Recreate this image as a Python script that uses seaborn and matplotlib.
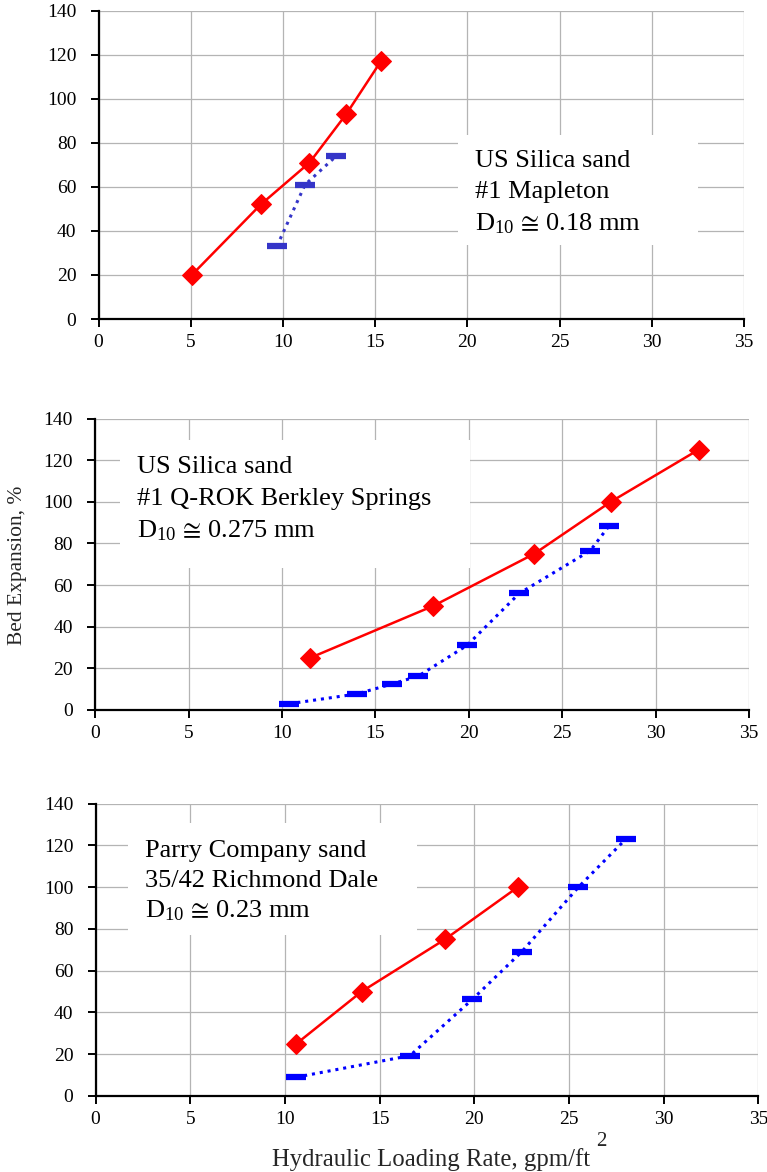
import matplotlib
matplotlib.use("Agg")
import matplotlib.pyplot as plt
import seaborn as sns
from matplotlib.patches import Rectangle

# ---- data ----
p1_red_x = [5.06, 8.8, 11.44, 13.43, 15.31]
p1_red_y = [20, 52, 71, 93, 117]
p1_blue_x = [9.67, 11.2, 12.89]
p1_blue_y = [33, 61, 74]

p2_red_x = [11.5, 18.1, 23.5, 27.6, 32.3]
p2_red_y = [25, 50, 75, 100, 125]
p2_blue_x = [10.4, 14.0, 15.9, 17.3, 19.9, 22.7, 26.5, 27.5]
p2_blue_y = [3, 7.7, 12.5, 16.3, 31, 56, 76.5, 88.3]

p3_red_x = [10.6, 14.05, 18.45, 22.3]
p3_red_y = [25, 50, 75, 100]
p3_blue_x = [10.6, 16.6, 19.9, 22.5, 25.5, 28.0]
p3_blue_y = [9, 19.3, 46.3, 69, 100, 123]

x_ticks = [0, 5, 10, 15, 20, 25, 30, 35]
y_ticks = [0, 20, 40, 60, 80, 100, 120, 140]

labels1 = ["US Silica sand", "#1 Mapleton", r"D$_{\mathrm{10}}\,\cong\,$0.18 mm"]
labels2 = ["US Silica sand", "#1 Q-ROK Berkley Springs", r"D$_{\mathrm{10}}\,\cong\,$0.275 mm"]
labels3 = ["Parry Company sand", "35/42 Richmond Dale", r"D$_{\mathrm{10}}\,\cong\,$0.23 mm"]

y_label = "Bed Expansion, %"
x_label = "Hydraulic Loading Rate, gpm/ft"

sns.set_theme(style="white")
plt.rcParams['font.family'] = ['Liberation Serif', 'DejaVu Serif']
plt.rcParams['mathtext.fontset'] = 'custom'
plt.rcParams['mathtext.rm'] = 'Liberation Serif'
plt.rcParams['mathtext.it'] = 'Liberation Serif:italic'
plt.rcParams['mathtext.fallback'] = 'stix'

W, H = 767, 1172
fig = plt.figure(figsize=(W / 100, H / 100), dpi=100)
fig.patch.set_facecolor('white')


def make_axes(x0, x1, ytop, ybot):
    return fig.add_axes([x0 / W, 1 - ybot / H, (x1 - x0) / W, (ybot - ytop) / H])


panels = [
    dict(rect=(98.5, 744, 10.7, 319), rx=p1_red_x, ry=p1_red_y, bx=p1_blue_x, by=p1_blue_y,
         blue='#3535c8', box=(0.557, 0.240, 0.929, 0.597), tx=0.583,
         ty=[0.493, 0.391, 0.288], labels=labels1),
    dict(rect=(95.2, 749, 418.5, 710), rx=p2_red_x, ry=p2_red_y, bx=p2_blue_x, by=p2_blue_y,
         blue='#0000ff', box=(0.038, 0.487, 0.573, 0.926), tx=0.0635,
         ty=[0.813, 0.703, 0.593], labels=labels2),
    dict(rect=(95.6, 758.4, 803.5, 1096), rx=p3_red_x, ry=p3_red_y, bx=p3_blue_x, by=p3_blue_y,
         blue='#0000ff', box=(0.049, 0.550, 0.485, 0.933), tx=0.0745,
         ty=[0.817, 0.715, 0.609], labels=labels3),
]

for p in panels:
    ax = make_axes(*p['rect'])
    ax.set_axisbelow(True)
    sns.lineplot(x=p['bx'], y=p['by'], ax=ax, color=p['blue'], linewidth=2.2,
                 linestyle=(0, (1.0, 1.6)), marker='_', markersize=15,
                 markeredgewidth=4.5, markeredgecolor=p['blue'],
                 sort=False, estimator=None, zorder=3)
    sns.lineplot(x=p['rx'], y=p['ry'], ax=ax, color='#ff0000', linewidth=1.8,
                 marker='D', markersize=10, markeredgecolor='#ff0000',
                 markerfacecolor='#ff0000', sort=False, estimator=None, zorder=4)
    ax.set_xlim(0, 35)
    ax.set_ylim(0, 140)
    ax.set_xticks(x_ticks)
    ax.set_yticks(y_ticks)
    ax.grid(True, color='#b4b4b4', linewidth=0.9)
    for s in ['top', 'right']:
        ax.spines[s].set_visible(False)
    for s in ['left', 'bottom']:
        ax.spines[s].set_visible(True)
        ax.spines[s].set_color('black')
        ax.spines[s].set_linewidth(1.6)
    ax.tick_params(axis='both', which='both', direction='out', length=6, width=1.4,
                   color='black', labelsize=14, labelcolor='black')
    ax.tick_params(axis='y', pad=10)
    ax.tick_params(axis='x', pad=5)
    ax.tick_params(left=True, bottom=True)
    ax.set_xlabel("")
    ax.set_ylabel("")
    bx0, by0, bx1, by1 = p['box']
    ax.add_patch(Rectangle((bx0, by0), bx1 - bx0, by1 - by0, transform=ax.transAxes,
                           facecolor='white', edgecolor='none', zorder=1))
    for t, yy in zip(p['labels'], p['ty']):
        ax.text(p['tx'], yy, t, transform=ax.transAxes, fontsize=19, va='baseline',
                ha='left', color='black', zorder=5)

fig.text(18 / W, 1 - 565 / H, y_label, rotation=90, fontsize=15.5, ha='center', va='center')
fig.text(431 / W, 1 - 1166 / H, x_label, fontsize=17.8, ha='center', va='baseline')
fig.text(596 / W, 1 - 1146 / H, "2", fontsize=15, ha='left', va='baseline')

fig.savefig("out.png", dpi=100)
